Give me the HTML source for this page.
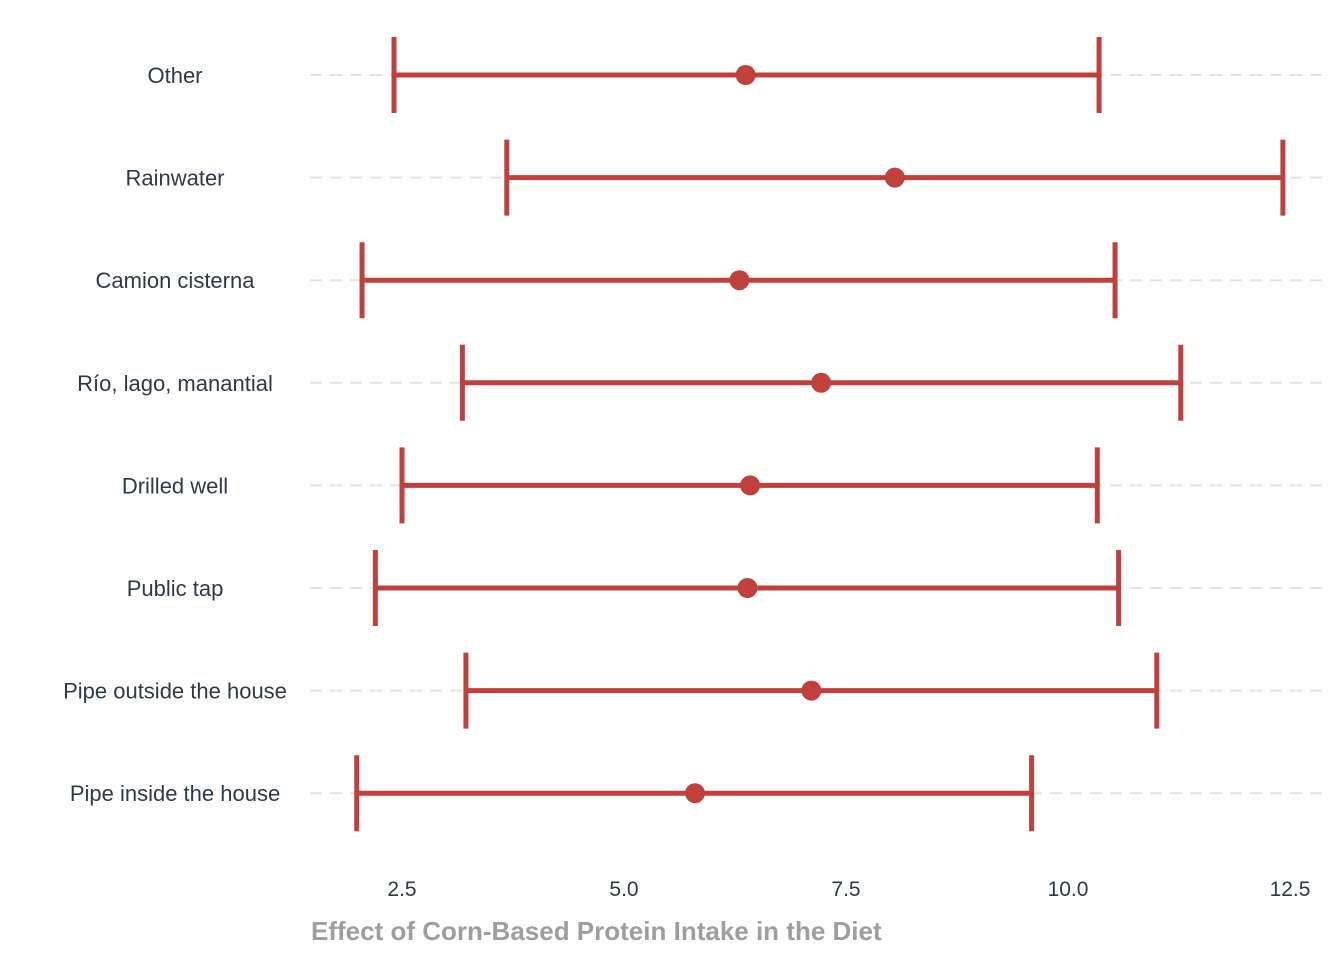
<!DOCTYPE html>
<html><head><meta charset="utf-8"><style>
body{margin:0;background:#fff}
svg text{font-family:"Liberation Sans",sans-serif}
</style></head><body>
<svg id="chart" width="1344" height="960"></svg>
<script>
const categories=["Other","Rainwater","Camion cisterna","Río, lago, manantial","Drilled well","Public tap","Pipe outside the house","Pipe inside the house"];
const lows=[2.41,3.68,2.05,3.18,2.5,2.2,3.22,1.99];
const highs=[10.35,12.42,10.53,11.27,10.33,10.57,11.0,9.59];
const estimates=[6.37,8.05,6.30,7.22,6.42,6.39,7.11,5.80];
const ticks=[2.5,5.0,7.5,10.0,12.5];
const tickLabels=["2.5","5.0","7.5","10.0","12.5"];
const svg=document.getElementById('chart');
const NS='http://www.w3.org/2000/svg';
const xs=v=>402+(v-2.5)*88.8;
const ys=i=>75+i*102.6;
const col='#c0403c';
function mk(t,a){const e=document.createElementNS(NS,t);for(const k in a)e.setAttribute(k,a[k]);svg.appendChild(e);return e;}
categories.forEach((c,i)=>{
  const y=ys(i);
  const g=mk('line',{x1:310,x2:1325,y1:y,y2:y,stroke:'#e3e3e3','stroke-width':2,'stroke-dasharray':'12,8'});
  
  
  const lb=mk('text',{x:175,y:y+8,'text-anchor':'middle','font-size':22,fill:'#2e3a46'});
  lb.textContent=c;
  
  
  const h=mk('line',{x1:xs(lows[i]),x2:xs(highs[i]),y1:y,y2:y,stroke:col,'stroke-width':5});
  
  
  [lows[i],highs[i]].forEach(v=>{
    const cp=mk('line',{x1:xs(v),x2:xs(v),y1:y-38,y2:y+38,stroke:col,'stroke-width':5});
    
    
  });
  const p=mk('circle',{cx:xs(estimates[i]),cy:y,r:10,fill:col});
  
  
});
ticks.forEach((t,i)=>{
  const tl=mk('text',{x:xs(t),y:896,'text-anchor':'middle','font-size':21,fill:'#2e3a46'});
  tl.textContent=tickLabels[i];
  
  
});
const xt=mk('text',{x:311,y:940,'font-size':26,'font-weight':'bold',fill:'#9e9e9e'});
xt.textContent='Effect of Corn-Based Protein Intake in the Diet';


</script>
</body></html>
